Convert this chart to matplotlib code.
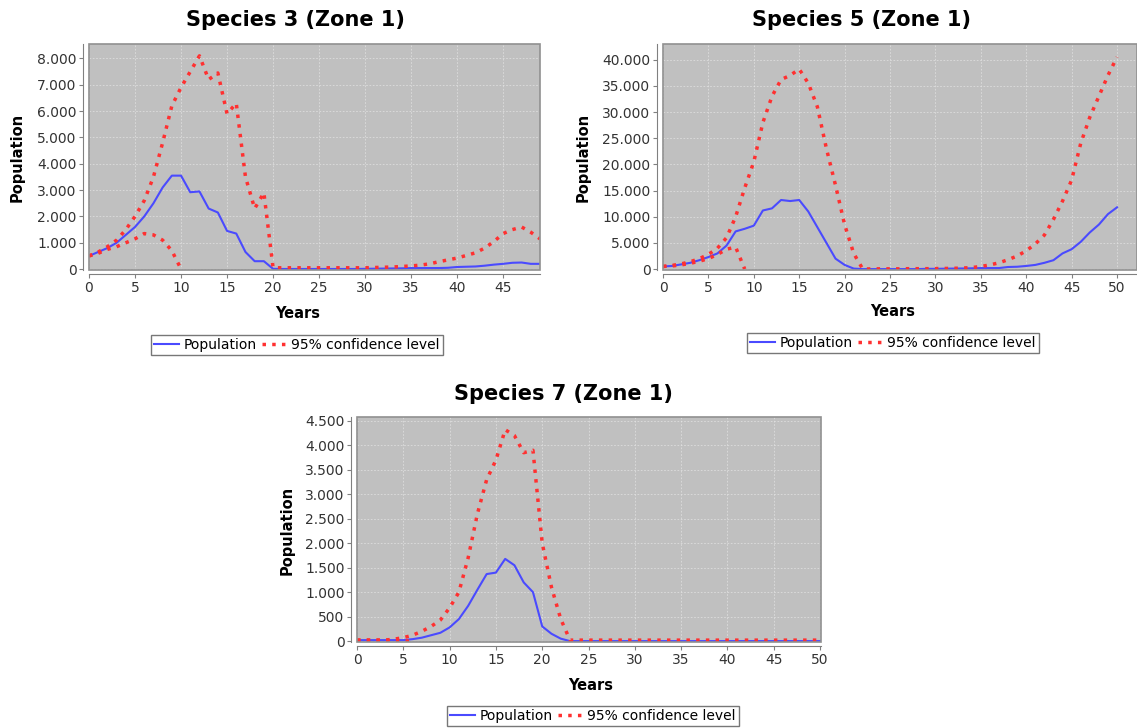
import numpy as np
import matplotlib
matplotlib.use('Agg')
import matplotlib.pyplot as plt
from matplotlib.ticker import FuncFormatter, MultipleLocator
from matplotlib.patches import Rectangle

plt.rcParams['font.family'] = ['DejaVu Sans']

# ---------- data ----------
years_3 = np.arange(0, 50)
pop_3 = [500, 650, 800, 1000, 1300, 1600, 2000, 2500, 3100, 3550,
         3550, 2920, 2950, 2300, 2150, 1450, 1350, 650, 300, 300,
         10, 5, 5, 5, 5, 5, 5, 5, 5, 5,
         10, 15, 20, 25, 30, 40, 40, 40, 40, 50,
         80, 90, 100, 130, 170, 200, 240, 250, 200, 200]
upper_3 = [500, 650, 850, 1100, 1500, 2000, 2600, 3500, 4800, 6200,
           6900, 7500, 8100, 7200, 7450, 5900, 6300, 3500, 2300, 2900,
           50, 50, 50, 50, 50, 50, 50, 50, 50, 50,
           50, 60, 70, 80, 100, 120, 150, 200, 280, 350,
           420, 520, 620, 800, 1050, 1350, 1500, 1600, 1400, 1150]
lower_3 = [500, 600, 750, 850, 1000, 1150, 1350, 1300, 1100, 700, 0]

years_5 = np.arange(0, 51)
pop_5 = [500, 600, 900, 1200, 1700, 2300, 3000, 4500, 7200, 7700,
         8300, 11200, 11600, 13200, 13000, 13200, 11000, 8000, 5000, 2000,
         800, 100, 0, 0, 0, 0, 0, 0, 0, 50,
         50, 80, 100, 120, 150, 200, 200, 200, 400, 450,
         600, 800, 1200, 1700, 3000, 3800, 5200, 7000, 8500, 10500, 11800]
upper_5 = [500, 700, 1000, 1400, 2000, 2800, 4000, 6000, 10000, 15500,
           20500, 28000, 33000, 36200, 37000, 38200, 35500, 31000, 23000, 16000,
           8500, 3000, 0, 50, 50, 50, 50, 80, 80, 80,
           100, 120, 150, 200, 300, 500, 800, 1200, 1800, 2500,
           3500, 4800, 6500, 9500, 13000, 17000, 24000, 29000, 33000, 37000, 40500]
lower_5 = [500, 600, 800, 1100, 1500, 2000, 2800, 3800, 4200, 0]

years_7 = np.arange(0, 51)
pop_7 = [20, 20, 20, 20, 20, 20, 40, 70, 120, 170,
         280, 450, 720, 1050, 1370, 1400, 1680, 1550, 1200, 1000,
         300, 150, 50, 0] + [0] * 27
upper_7 = [20, 20, 20, 20, 40, 70, 120, 200, 300, 430,
           680, 1000, 1700, 2600, 3300, 3700, 4320, 4200, 3850, 3900,
           2000, 1100, 450, 20] + [20] * 27
lower_7 = [20, 20, 20, 20, 10, 5, 0]

BLUE = '#4a4aff'
RED = '#ff3030'
BG = '#c0c0c0'

W, H = 1137, 728
fig = plt.figure(figsize=(W / 100, H / 100), dpi=100)


def thousands(v, pos):
    return f'{int(round(v)):,}'.replace(',', '.')


def panel(rect, years, pop, upper, lower, xmax, ymax, ystep, title, title_xy,
          ylab_xy, xlab_xy, leg_xy):
    l, b, r, t = rect
    ax = fig.add_axes([l / W, 1 - b / H, (r - l) / W, (b - t) / H])
    ax.set_facecolor(BG)
    ax.plot(years, pop, color=BLUE, lw=1.5, label='Population', zorder=3)
    ax.plot(years, upper, color=RED, lw=2.5, ls=(0, (1, 1.8)),
            label='95% confidence level', zorder=4)
    ax.plot(years[:len(lower)], lower, color=RED, lw=2.5, ls=(0, (1, 1.8)),
            zorder=4)
    ax.set_xlim(0, xmax)
    ax.set_ylim(-ymax * 0.004, ymax)
    ax.xaxis.set_major_locator(MultipleLocator(5))
    ax.yaxis.set_major_locator(MultipleLocator(ystep))
    ax.yaxis.set_major_formatter(FuncFormatter(thousands))
    ax.grid(True, color='#e4e4e4', ls=(0, (2, 2)), lw=0.6, alpha=0.8)
    ax.set_axisbelow(True)
    for s in ['top', 'right']:
        ax.spines[s].set_visible(False)
    ax.spines['left'].set_position(('outward', 4))
    ax.spines['bottom'].set_position(('outward', 3))
    ax.spines['left'].set_color('#808080')
    ax.spines['bottom'].set_color('#808080')
    ax.add_patch(Rectangle((0, 0), 1, 1, transform=ax.transAxes, fill=False,
                           edgecolor='#909090', lw=1.2, zorder=5, clip_on=False))
    ax.tick_params(length=3, color='#808080', labelsize=10, labelcolor='#333333',
                   pad=2)
    fig.text(title_xy[0] / W, 1 - title_xy[1] / H, title, ha='center',
             va='center', fontsize=15, fontweight='bold')
    fig.text(ylab_xy[0] / W, 1 - ylab_xy[1] / H, 'Population', rotation=90,
             ha='center', va='center', fontsize=10.5, fontweight='bold')
    fig.text(xlab_xy[0] / W, 1 - xlab_xy[1] / H, 'Years', ha='center',
             va='center', fontsize=10.5, fontweight='bold')
    leg = ax.legend(loc='center', bbox_to_anchor=(leg_xy[0] / W, 1 - leg_xy[1] / H),
                    bbox_transform=fig.transFigure, ncol=2, frameon=True,
                    fancybox=False, fontsize=10, handlelength=1.8,
                    handletextpad=0.3, columnspacing=0.4, borderpad=0.25,
                    borderaxespad=0)
    leg.get_frame().set_edgecolor('#555555')
    leg.get_frame().set_linewidth(1.0)
    return ax


panel((89, 270, 540, 44), years_3, pop_3, upper_3, lower_3, 49, 8550, 1000,
      'Species 3 (Zone 1)', (295, 20), (17, 157), (298, 314), (297, 345))
panel((663, 270, 1137, 44), years_5, pop_5, upper_5, lower_5, 52.2, 43000, 5000,
      'Species 5 (Zone 1)', (862, 20), (583, 157), (893, 312), (893, 343))
panel((357, 642, 821, 417), years_7, pop_7, upper_7, lower_7, 50.1, 4580, 500,
      'Species 7 (Zone 1)', (563, 394), (287, 530), (591, 686), (593, 716))

fig.savefig('out.png', dpi=100)
